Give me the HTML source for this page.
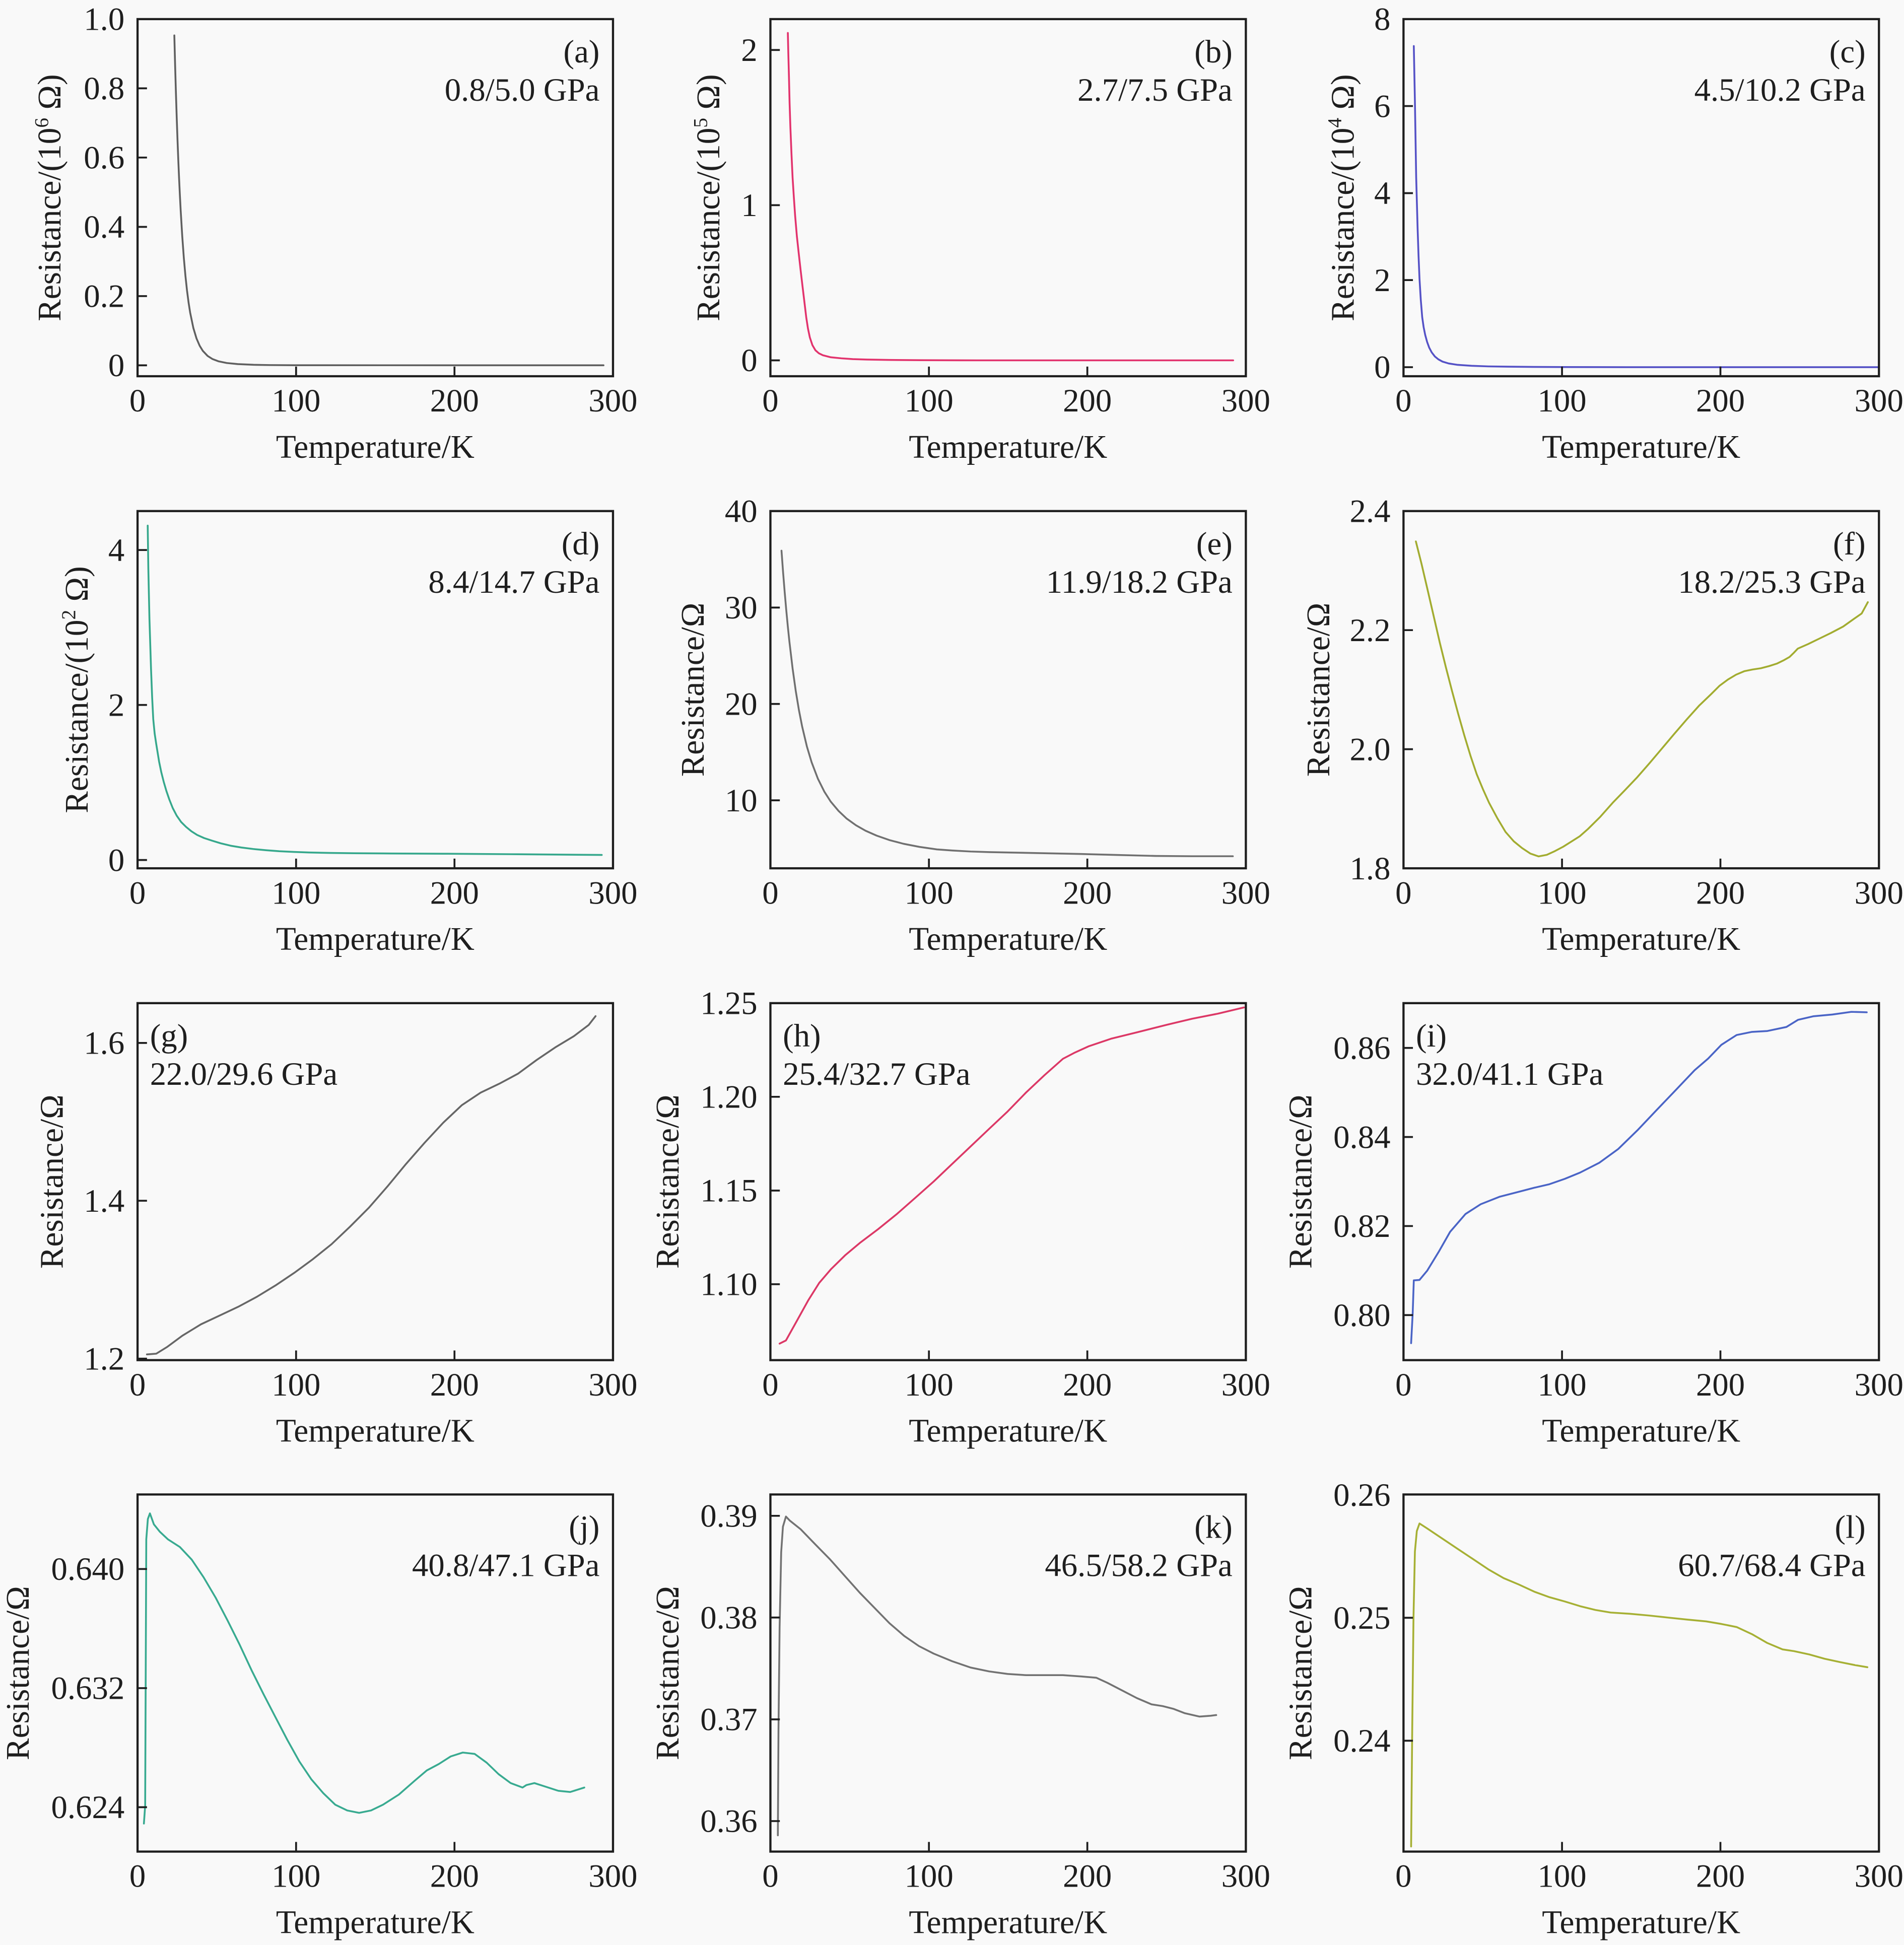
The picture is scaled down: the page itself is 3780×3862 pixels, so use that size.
<!DOCTYPE html>
<html><head><meta charset="utf-8">
<style>
html,body{margin:0;padding:0;background:#f9f9f9;overflow:hidden}
svg{display:block}
.tk{font-family:"Liberation Serif",serif;font-size:26.3px;fill:#1e1e1e}
.ti{font-family:"Liberation Serif",serif;font-size:26.5px;fill:#1e1e1e}
.fr{fill:none;stroke:#1e1e1e;stroke-width:1.75}
.tl{stroke:#1e1e1e;stroke-width:1.5}
.d{fill:none;stroke-width:3.6;stroke-linejoin:round;stroke-linecap:round}
</style></head>
<body>
<svg xmlns="http://www.w3.org/2000/svg" width="3780" height="3862">
<rect x="0" y="0" width="3780" height="3862" fill="#f9f9f9"/>
<g transform="scale(2.46254 2.46301)">

<!-- ================= DATA ================= -->
<!-- (a) -->
<polyline class="d" stroke="#606060" vector-effect="non-scaling-stroke" transform="translate(110.9 294.5) scale(1.27767 -279.1)" points="23.2,0.953 23.7,0.866 24.2,0.788 24.7,0.7165 25.2,0.652 25.7,0.593 26.2,0.540 26.7,0.492 27.2,0.448 28.2,0.3725 29.2,0.310 30.2,0.2586 31.2,0.2161 32.2,0.181 33.2,0.1519 35.2,0.1079 37.2,0.0775 39.2,0.0564 41.2,0.0416 44.2,0.0271 47.2,0.0183 51.2,0.0114 56.2,0.0067 63.2,0.0035 73.2,0.0015 83.2,0.0007 98.2,0.0002 294,0"/>
<!-- (b) -->
<polyline class="d" stroke="#e2336d" vector-effect="non-scaling-stroke" transform="translate(621.1 290.5) scale(1.27767 -125.1)" points="11,2.11 11.3,1.98 11.7,1.83 12.1,1.66 12.6,1.504 13.3,1.33 14,1.177 14.8,1.05 15.6,0.932 16.7,0.80 17.9,0.687 19.1,0.578 20.3,0.474 21.5,0.372 22.6,0.278 23.7,0.205 24.9,0.147 26.5,0.098 28.4,0.065 30.5,0.046 33.1,0.033 38,0.020 44.8,0.013 52,0.008 61,0.005 75,0.0025 95,0.001 130,0 292,0"/>
<!-- (c) -->
<polyline class="d" stroke="#5552c6" vector-effect="non-scaling-stroke" transform="translate(1131.5 296.0) scale(1.27767 -35.08)" points="6.5,7.38 7.2,6.11 8,4.36 8.9,3.19 9.5,2.55 10.1,2.03 10.9,1.55 11.8,1.15 12.7,0.92 13.7,0.74 14.9,0.58 16.2,0.45 17.8,0.34 19.8,0.245 22,0.18 24.6,0.128 28.5,0.085 34.2,0.053 43,0.032 53.5,0.018 66,0.011 82.5,0.006 100,0.003 140,0 299.5,0"/>
<!-- (d) -->
<polyline class="d" stroke="#36a88c" vector-effect="non-scaling-stroke" transform="translate(110.9 693.3) scale(1.27767 -62.48)" points="6.4,4.314 6.8,3.757 7.5,3.11 8.5,2.464 9.2,2.1 9.9,1.817 10.8,1.63 11.8,1.494 13.6,1.268 15,1.13 16.5,1.009 18.2,0.89 20,0.783 22.2,0.67 24.7,0.572 27.5,0.49 30.6,0.427 34,0.37 37.6,0.323 42,0.283 47.1,0.249 52.5,0.215 58.8,0.184 65.5,0.161 72.9,0.142 81,0.126 89.4,0.113 98.5,0.104 108.2,0.097 121,0.091 136.5,0.087 160,0.084 192.9,0.081 240,0.074 292.9,0.065"/>
<!-- (e) -->
<polyline class="d" stroke="#707070" vector-effect="non-scaling-stroke" transform="translate(621.1 645.2) scale(1.27767 -7.77) translate(0 -10)" points="7,35.9 8,33.66 9,31.62 10,29.74 11,28.02 12,26.45 14,23.68 16,21.34 18,19.36 20,17.68 23,15.60 26,13.95 30,12.23 34,10.91 38,9.88 43,8.90 48,8.12 54,7.41 60,6.85 67,6.34 75,5.88 84,5.49 94,5.17 105,4.91 115,4.79 126.3,4.69 138,4.63 149.7,4.59 173,4.51 196.3,4.43 219.6,4.33 242.9,4.23 266.2,4.2 291.8,4.2"/>
<!-- (f) -->
<polyline class="d" stroke="#a2ac30" vector-effect="non-scaling-stroke" transform="translate(1131.5 700) scale(1.27767 -480) translate(0 -1.8)" points="7.8,2.349 11.4,2.311 15,2.270 18.95,2.2246 22.9,2.179 26.75,2.1375 30.6,2.098 34.5,2.0595 38.4,2.023 42.3,1.9888 46.2,1.958 50.1,1.933 54,1.910 59.2,1.8842 64.4,1.861 69.6,1.8453 74.8,1.834 80,1.8248 85.2,1.820 90.4,1.8226 95.6,1.829 100.8,1.8363 106,1.845 111.2,1.8538 116.4,1.866 124.2,1.8866 132,1.910 139.75,1.9313 147.5,1.953 155.25,1.9766 163,2.001 170.85,2.0258 178.7,2.050 186.5,2.0731 194.3,2.093 199.5,2.1068 204.7,2.117 209.85,2.1252 215,2.131 220.25,2.1339 225.5,2.136 230.65,2.1396 235.8,2.144 239.7,2.1491 243.6,2.155 246.2,2.1617 248.8,2.169 255.3,2.1766 261.8,2.185 269.6,2.1951 277.4,2.206 283.25,2.2171 289.1,2.228 291.05,2.2375 293,2.247"/>
<!-- (g) -->
<polyline class="d" stroke="#666666" vector-effect="non-scaling-stroke" transform="translate(110.9 1095.3) scale(1.27767 -636.25) translate(0 -1.2)" points="5.9,1.2054 11.8,1.2063 18.8,1.215 28.2,1.229 40,1.2435 51.8,1.2546 63.5,1.2657 75.3,1.2784 87,1.2927 98.8,1.3086 110.6,1.326 122.4,1.345 134.1,1.3673 145.9,1.3911 157.6,1.418 169.4,1.4467 181.2,1.4737 192.9,1.499 204.7,1.5213 216.5,1.5371 228.2,1.5483 240,1.561 251.8,1.5784 263.5,1.5943 275.3,1.6086 284.7,1.6229 289,1.634"/>
<!-- (h) -->
<polyline class="d" stroke="#dc3866" vector-effect="non-scaling-stroke" transform="translate(621.1 1035.3) scale(1.27767 -1510.7) translate(0 -1.10)" points="5.8,1.0683 9.8,1.070 16.8,1.0806 23.8,1.0913 30.8,1.1007 38.2,1.108 47.1,1.1154 56.4,1.122 68,1.1294 79.7,1.1374 91.4,1.1461 103,1.1548 114.7,1.1642 126.3,1.1735 138,1.1829 149.7,1.1922 161.3,1.2023 173,1.2116 184.6,1.2203 191.6,1.2234 200.9,1.227 214.9,1.231 231.2,1.2344 249.9,1.2384 266.2,1.2417 282.5,1.2444 298.8,1.2477"/>
<!-- (i) -->
<polyline class="d" stroke="#4a64c6" vector-effect="non-scaling-stroke" transform="translate(1131.5 1060.2) scale(1.27767 -3590) translate(0 -0.80)" points="4.8,0.7937 5.8,0.8004 6.5,0.8078 10.1,0.8079 15,0.810 22.2,0.8142 29.4,0.8187 39.1,0.8227 48.7,0.8249 60.8,0.8266 72.8,0.8277 82.5,0.8286 92.1,0.8294 101.8,0.8306 111.4,0.832 123.5,0.8342 135.5,0.8373 147.6,0.8415 159.6,0.846 171.7,0.8505 183.7,0.855 192.2,0.8576 200.6,0.8607 210.2,0.8629 219.9,0.8636 229.6,0.8638 241.6,0.8647 248.9,0.8663 258.5,0.8671 270.6,0.8675 282.6,0.8681 292.3,0.868"/>
<!-- (j) -->
<polyline class="d" stroke="#38aa90" vector-effect="non-scaling-stroke" transform="translate(110.9 1456.9) scale(1.27767 -12000) translate(0 -0.624)" points="4,0.6229 4.8,0.6241 5.5,0.6420 6.5,0.64336 7.8,0.64374 10.3,0.6430 14.1,0.6425 19.1,0.6420 26.7,0.64148 34.2,0.64063 41.7,0.63944 49.3,0.63807 56.8,0.63654 64.4,0.63492 71.9,0.63321 79.5,0.63159 87,0.63005 94.5,0.62852 102.1,0.62707 109.6,0.62588 117.2,0.62494 124.7,0.62417 132.3,0.62378 139.8,0.62362 147.3,0.62378 154.9,0.62417 164.9,0.62485 175,0.62579 182.5,0.62647 190.1,0.6269 197.6,0.62741 205.2,0.62767 212.7,0.62758 220.3,0.62699 227.8,0.62622 235.4,0.62562 242.9,0.62532 245.4,0.62549 250.4,0.62562 258,0.62536 265.5,0.6251 273,0.62502 281.9,0.62532"/>
<!-- (k) -->
<polyline class="d" stroke="#727272" vector-effect="non-scaling-stroke" transform="translate(621.1 1468.1) scale(1.27767 -8203) translate(0 -0.36)" points="4.7,0.3586 5.1,0.369 5.8,0.3790 6.8,0.38643 7.9,0.38893 9.8,0.38993 12.1,0.38955 19.1,0.38868 28.4,0.38718 37.8,0.38569 47.1,0.38406 56.4,0.38244 65.7,0.38095 75.1,0.37945 84.4,0.3782 93.7,0.3772 103,0.37646 114.7,0.37571 126.3,0.37509 138,0.37471 149.7,0.37446 161.3,0.37434 173,0.37434 184.6,0.37434 196.3,0.37421 205.6,0.37409 212.6,0.37359 221.9,0.37284 231.2,0.37209 240.5,0.37147 247.5,0.3713 254.5,0.37102 261.5,0.3706 270.8,0.37027 277.8,0.37035 281.3,0.37042"/>
<!-- (l) -->
<polyline class="d" stroke="#a6b034" vector-effect="non-scaling-stroke" transform="translate(1131.5 1403.3) scale(1.27767 -9905) translate(0 -0.24)" points="4.8,0.23139 5.5,0.24091 6.3,0.25002 7.2,0.2554 8.4,0.25706 10.1,0.25768 15,0.25727 24.6,0.25644 34.2,0.25561 43.9,0.25478 53.5,0.25395 63.2,0.25323 72.8,0.25271 82.5,0.25213 92.1,0.25168 101.8,0.25133 111.4,0.25095 121.1,0.25064 130.7,0.25043 142.8,0.25033 154.8,0.25019 166.9,0.25002 178.9,0.24986 191,0.24971 200.6,0.2495 210.2,0.24925 219.9,0.24867 229.6,0.24795 239.2,0.24743 246.4,0.24729 256.1,0.24702 265.7,0.24667 275.4,0.2464 285,0.24615 292.7,0.24598"/>

<!-- ================= FRAMES ================= -->
<rect class="fr" x="110.9" y="15.4" width="383.3" height="287.9"/>
<rect class="fr" x="621.1" y="15.4" width="383.3" height="287.9"/>
<rect class="fr" x="1131.5" y="15.4" width="383.3" height="287.9"/>
<rect class="fr" x="110.9" y="412" width="383.3" height="288"/>
<rect class="fr" x="621.1" y="412" width="383.3" height="288"/>
<rect class="fr" x="1131.5" y="412" width="383.3" height="288"/>
<rect class="fr" x="110.9" y="808.7" width="383.3" height="287.8"/>
<rect class="fr" x="621.1" y="808.7" width="383.3" height="287.8"/>
<rect class="fr" x="1131.5" y="808.7" width="383.3" height="287.8"/>
<rect class="fr" x="110.9" y="1204.8" width="383.3" height="287.9"/>
<rect class="fr" x="621.1" y="1204.8" width="383.3" height="287.9"/>
<rect class="fr" x="1131.5" y="1204.8" width="383.3" height="287.9"/>

<!-- ================= TICKS ================= -->
<path class="tl" d="
M238.7 303.3v-7.8M366.4 303.3v-7.8M748.9 303.3v-7.8M876.6 303.3v-7.8M1259.3 303.3v-7.8M1387 303.3v-7.8
M238.7 700v-7.8M366.4 700v-7.8M748.9 700v-7.8M876.6 700v-7.8M1259.3 700v-7.8M1387 700v-7.8
M238.7 1096.5v-7.8M366.4 1096.5v-7.8M748.9 1096.5v-7.8M876.6 1096.5v-7.8M1259.3 1096.5v-7.8M1387 1096.5v-7.8
M238.7 1492.7v-7.8M366.4 1492.7v-7.8M748.9 1492.7v-7.8M876.6 1492.7v-7.8M1259.3 1492.7v-7.8M1387 1492.7v-7.8
M110.9 294.5h7.6M110.9 238.7h7.6M110.9 182.9h7.6M110.9 127h7.6M110.9 71.2h7.6
M621.1 290.5h7.6M621.1 165.4h7.6M621.1 40.3h7.6
M1131.5 296h7.6M1131.5 225.8h7.6M1131.5 155.7h7.6M1131.5 85.5h7.6
M110.9 693.3h7.6M110.9 568.3h7.6M110.9 443.4h7.6
M621.1 645.2h7.6M621.1 567.5h7.6M621.1 489.8h7.6
M1131.5 604h7.6M1131.5 508h7.6
M110.9 1095.3h7.6M110.9 968h7.6M110.9 840.8h7.6
M621.1 1035.3h7.6M621.1 959.8h7.6M621.1 884.2h7.6
M1131.5 1060.2h7.6M1131.5 988.4h7.6M1131.5 916.6h7.6M1131.5 844.8h7.6
M110.9 1456.9h7.6M110.9 1360.9h7.6M110.9 1264.9h7.6
M621.1 1468.1h7.6M621.1 1386.1h7.6M621.1 1304h7.6M621.1 1222h7.6
M1131.5 1403.3h7.6M1131.5 1304.2h7.6"/>

<!-- ================= Y TICK LABELS ================= -->
<g class="tk" text-anchor="end">
<text x="100.4" y="303.3">0</text>
<text x="100.4" y="247.5">0.2</text>
<text x="100.4" y="191.7">0.4</text>
<text x="100.4" y="135.8">0.6</text>
<text x="100.4" y="80">0.8</text>
<text x="100.4" y="24.2">1.0</text>

<text x="610.6" y="299.3">0</text>
<text x="610.6" y="174.2">1</text>
<text x="610.6" y="49.1">2</text>

<text x="1121" y="304.8">0</text>
<text x="1121" y="234.6">2</text>
<text x="1121" y="164.5">4</text>
<text x="1121" y="94.3">6</text>
<text x="1121" y="24.2">8</text>

<text x="100.4" y="702.1">0</text>
<text x="100.4" y="577.1">2</text>
<text x="100.4" y="452.2">4</text>

<text x="610.6" y="654">10</text>
<text x="610.6" y="576.3">20</text>
<text x="610.6" y="498.6">30</text>
<text x="610.6" y="420.9">40</text>

<text x="1121" y="708.8">1.8</text>
<text x="1121" y="612.8">2.0</text>
<text x="1121" y="516.8">2.2</text>
<text x="1121" y="420.8">2.4</text>

<text x="100.4" y="1104.1">1.2</text>
<text x="100.4" y="976.8">1.4</text>
<text x="100.4" y="849.6">1.6</text>

<text x="610.6" y="1044.1">1.10</text>
<text x="610.6" y="968.6">1.15</text>
<text x="610.6" y="893">1.20</text>
<text x="610.6" y="817.5">1.25</text>

<text x="1121" y="1069">0.80</text>
<text x="1121" y="997.2">0.82</text>
<text x="1121" y="925.4">0.84</text>
<text x="1121" y="853.6">0.86</text>

<text x="100.4" y="1465.7">0.624</text>
<text x="100.4" y="1369.7">0.632</text>
<text x="100.4" y="1273.7">0.640</text>

<text x="610.6" y="1476.9">0.36</text>
<text x="610.6" y="1394.9">0.37</text>
<text x="610.6" y="1312.8">0.38</text>
<text x="610.6" y="1230.8">0.39</text>

<text x="1121" y="1412.1">0.24</text>
<text x="1121" y="1313">0.25</text>
<text x="1121" y="1214">0.26</text>
</g>

<!-- ================= X TICK LABELS ================= -->
<g class="tk" text-anchor="middle">
<text x="110.9" y="331.8">0</text><text x="238.7" y="331.8">100</text><text x="366.4" y="331.8">200</text><text x="494.2" y="331.8">300</text>
<text x="621.1" y="331.8">0</text><text x="748.9" y="331.8">100</text><text x="876.6" y="331.8">200</text><text x="1004.4" y="331.8">300</text>
<text x="1131.5" y="331.8">0</text><text x="1259.3" y="331.8">100</text><text x="1387" y="331.8">200</text><text x="1514.8" y="331.8">300</text>

<text x="110.9" y="728.5">0</text><text x="238.7" y="728.5">100</text><text x="366.4" y="728.5">200</text><text x="494.2" y="728.5">300</text>
<text x="621.1" y="728.5">0</text><text x="748.9" y="728.5">100</text><text x="876.6" y="728.5">200</text><text x="1004.4" y="728.5">300</text>
<text x="1131.5" y="728.5">0</text><text x="1259.3" y="728.5">100</text><text x="1387" y="728.5">200</text><text x="1514.8" y="728.5">300</text>

<text x="110.9" y="1125">0</text><text x="238.7" y="1125">100</text><text x="366.4" y="1125">200</text><text x="494.2" y="1125">300</text>
<text x="621.1" y="1125">0</text><text x="748.9" y="1125">100</text><text x="876.6" y="1125">200</text><text x="1004.4" y="1125">300</text>
<text x="1131.5" y="1125">0</text><text x="1259.3" y="1125">100</text><text x="1387" y="1125">200</text><text x="1514.8" y="1125">300</text>

<text x="110.9" y="1521.2">0</text><text x="238.7" y="1521.2">100</text><text x="366.4" y="1521.2">200</text><text x="494.2" y="1521.2">300</text>
<text x="621.1" y="1521.2">0</text><text x="748.9" y="1521.2">100</text><text x="876.6" y="1521.2">200</text><text x="1004.4" y="1521.2">300</text>
<text x="1131.5" y="1521.2">0</text><text x="1259.3" y="1521.2">100</text><text x="1387" y="1521.2">200</text><text x="1514.8" y="1521.2">300</text>
</g>

<!-- ================= X TITLES ================= -->
<g class="ti" text-anchor="middle">
<text x="302.5" y="369.1">Temperature/K</text><text x="812.7" y="369.1">Temperature/K</text><text x="1323.1" y="369.1">Temperature/K</text>
<text x="302.5" y="765.8">Temperature/K</text><text x="812.7" y="765.8">Temperature/K</text><text x="1323.1" y="765.8">Temperature/K</text>
<text x="302.5" y="1162.3">Temperature/K</text><text x="812.7" y="1162.3">Temperature/K</text><text x="1323.1" y="1162.3">Temperature/K</text>
<text x="302.5" y="1558.5">Temperature/K</text><text x="812.7" y="1558.5">Temperature/K</text><text x="1323.1" y="1558.5">Temperature/K</text>
</g>

<!-- ================= Y TITLES ================= -->
<g class="ti" text-anchor="middle">
<text transform="translate(48.8 159.4) rotate(-90)">Resistance/(10<tspan font-size="16" dy="-10">6</tspan><tspan dy="10"> Ω)</tspan></text>
<text transform="translate(579.9 159.4) rotate(-90)">Resistance/(10<tspan font-size="16" dy="-10">5</tspan><tspan dy="10"> Ω)</tspan></text>
<text transform="translate(1091.3 159.4) rotate(-90)">Resistance/(10<tspan font-size="16" dy="-10">4</tspan><tspan dy="10"> Ω)</tspan></text>
<text transform="translate(70.6 556) rotate(-90)">Resistance/(10<tspan font-size="16" dy="-10">2</tspan><tspan dy="10"> Ω)</tspan></text>
<text transform="translate(567.4 556) rotate(-90)">Resistance/Ω</text>
<text transform="translate(1071.6 556) rotate(-90)">Resistance/Ω</text>
<text transform="translate(50.5 952.6) rotate(-90)">Resistance/Ω</text>
<text transform="translate(547 952.6) rotate(-90)">Resistance/Ω</text>
<text transform="translate(1057.3 952.6) rotate(-90)">Resistance/Ω</text>
<text transform="translate(23.1 1348.8) rotate(-90)">Resistance/Ω</text>
<text transform="translate(547 1348.8) rotate(-90)">Resistance/Ω</text>
<text transform="translate(1057.3 1348.8) rotate(-90)">Resistance/Ω</text>
</g>

<!-- ================= PANEL ANNOTATIONS ================= -->
<g class="tk" text-anchor="end">
<text x="483.4" y="50.4">(a)</text><text x="483.4" y="81.2">0.8/5.0 GPa</text>
<text x="993.6" y="50.4">(b)</text><text x="993.6" y="81.2">2.7/7.5 GPa</text>
<text x="1504" y="50.4">(c)</text><text x="1504" y="81.2">4.5/10.2 GPa</text>
<text x="483.4" y="447">(d)</text><text x="483.4" y="477.8">8.4/14.7 GPa</text>
<text x="993.6" y="447">(e)</text><text x="993.6" y="477.8">11.9/18.2 GPa</text>
<text x="1504" y="447">(f)</text><text x="1504" y="477.8">18.2/25.3 GPa</text>
<text x="483.4" y="1239.8">(j)</text><text x="483.4" y="1270.6">40.8/47.1 GPa</text>
<text x="993.6" y="1239.8">(k)</text><text x="993.6" y="1270.6">46.5/58.2 GPa</text>
<text x="1504" y="1239.8">(l)</text><text x="1504" y="1270.6">60.7/68.4 GPa</text>
</g>
<g class="tk" text-anchor="start">
<text x="120.9" y="843.7">(g)</text><text x="120.9" y="874.5">22.0/29.6 GPa</text>
<text x="631.1" y="843.7">(h)</text><text x="631.1" y="874.5">25.4/32.7 GPa</text>
<text x="1141.5" y="843.7">(i)</text><text x="1141.5" y="874.5">32.0/41.1 GPa</text>
</g>

</g>
</svg>
</body></html>
